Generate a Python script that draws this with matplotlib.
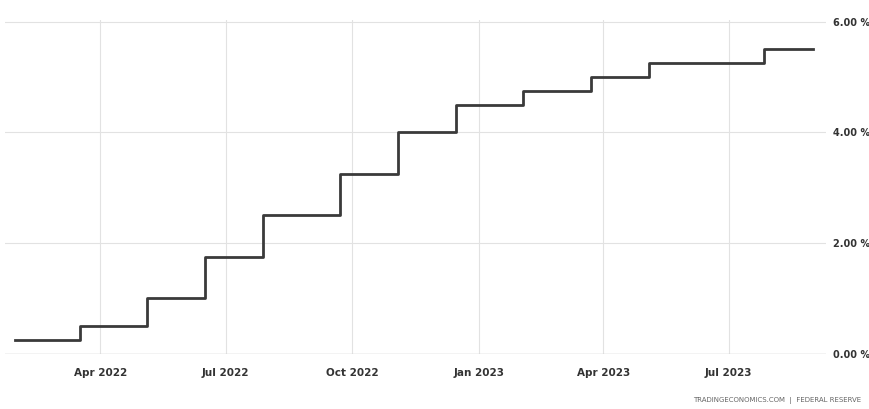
import pandas as pd
import matplotlib.pyplot as plt
import matplotlib.dates as mdates
from matplotlib.ticker import FuncFormatter

# rate hikes (upper bound of target range)
change_dates = ['2022-01-29', '2022-03-17', '2022-05-05', '2022-06-16', '2022-07-28',
                '2022-09-22', '2022-11-03', '2022-12-15', '2023-02-02', '2023-03-23',
                '2023-05-04', '2023-07-27', '2023-08-31']
rates = [0.25, 0.50, 1.00, 1.75, 2.50, 3.25, 4.00, 4.50, 4.75, 5.00, 5.25, 5.50, 5.50]
tick_dates = ['2022-04-01', '2022-07-01', '2022-10-01', '2023-01-01', '2023-04-01', '2023-07-01']
y_ticks = [0, 2, 4, 6]

x = pd.to_datetime(change_dates)
xt = pd.to_datetime(tick_dates)

fig = plt.figure(figsize=(8.7, 4.09), dpi=100)
ax = fig.add_axes([0.006, 0.135, 0.944, 0.815])

ax.step(x, rates, where='post', color='#3a3a3a', lw=2.0)

ax.set_ylim(0, 6.02)
ax.set_xlim(pd.Timestamp('2022-01-22'), pd.Timestamp('2023-09-10'))
ax.set_yticks(y_ticks)
ax.yaxis.tick_right()
ax.yaxis.set_major_formatter(FuncFormatter(lambda v, p: '{:.2f} %'.format(v)))
ax.set_xticks(xt)
ax.xaxis.set_major_formatter(mdates.DateFormatter('%b %Y'))
ax.tick_params(axis='x', length=0, labelsize=7.5, colors='#333333', pad=10)
ax.tick_params(axis='y', length=0, labelsize=7, colors='#333333', pad=5)
for lab in ax.get_xticklabels() + ax.get_yticklabels():
    lab.set_fontweight('bold')

ax.grid(True, color='#e2e2e2', lw=0.8)
ax.axhline(0, color='#cccccc', lw=1)
for s in ax.spines.values():
    s.set_visible(False)

fig.text(0.99, 0.012, 'TRADINGECONOMICS.COM  |  FEDERAL RESERVE', ha='right', va='bottom',
         fontsize=5, color='#666666')

fig.savefig('out.png', dpi=100)
